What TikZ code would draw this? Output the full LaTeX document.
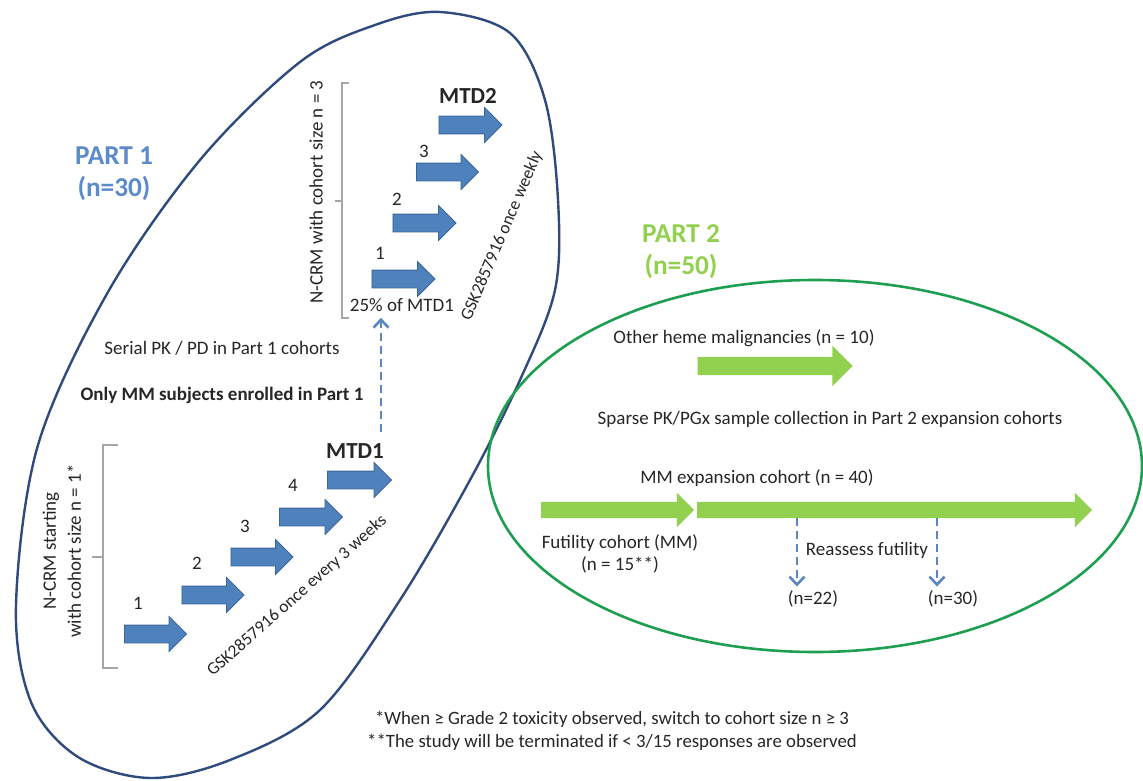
\documentclass[tikz,border=0pt]{standalone}
\usepackage{fontspec}
\setmainfont{Carlito}
\usetikzlibrary{shapes.arrows,arrows.meta}
\definecolor{bluefill}{HTML}{4F81BD}
\definecolor{bluedraw}{HTML}{3A6598}
\definecolor{ellblue}{HTML}{2F4A7D}
\definecolor{ellgreen}{HTML}{1E9E50}
\definecolor{greenfill}{HTML}{92D050}
\definecolor{part1col}{HTML}{5B8BCB}
\definecolor{part2col}{HTML}{92D050}
\definecolor{dashcol}{HTML}{5B86C0}
\definecolor{txtcol}{HTML}{262626}
\definecolor{brackcol}{HTML}{A6A6A6}
\begin{document}
\begin{tikzpicture}[x=1pt,y=-1pt,
  txt/.style={font=\fontsize{19}{23}\selectfont, text=txtcol, inner sep=0pt},
  btxt/.style={txt, font=\fontsize{19}{23}\selectfont\bfseries},
  numtxt/.style={txt, font=\fontsize{19}{23}\selectfont},
  mtdtxt/.style={txt, font=\fontsize{23}{27}\selectfont\bfseries},
  rottxt/.style={txt, font=\fontsize{17.5}{21}\selectfont},
  parttxt/.style={inner sep=0pt, align=center, font=\fontsize{27.3}{32}\selectfont\bfseries},
  barrow/.style={single arrow, fill=bluefill, draw=bluedraw, line width=0.8pt,
     inner ysep=8.5pt, inner xsep=0pt, single arrow head extend=8.5pt, single arrow tip angle=90},
  garrow/.style={single arrow, fill=greenfill, draw=none,
     inner ysep=8pt, inner xsep=0pt, single arrow head extend=9pt, single arrow tip angle=90},
  bracketline/.style={draw=brackcol, line width=1.2pt},
  dasharr/.style={draw=dashcol, line width=2.6pt, dash pattern=on 8pt off 5pt,
     -{Straight Barb[length=8pt,width=15pt]}},
  ellblue/.style={draw=ellblue, line width=2.4pt},
  ellgreen/.style={draw=ellgreen, line width=2.6pt}
]
\useasboundingbox (0,0) rectangle (1143,781);

% ---------- containers ----------
\draw[ellblue] plot[smooth cycle, tension=0.55] coordinates {
  (440,12) (510,33) (545,100) (558,200) (555,290) (520,380) (470,480)
  (400,600) (320,710) (230,760) (150,778) (78,757) (31,702) (16,605)
  (38,445) (108,292) (200,160) (300,62) (375,25)};
\draw[ellgreen] (815,466) ellipse [x radius=327pt, y radius=186pt];

% ---------- PART 1 ----------
\node[parttxt, text=part1col] (part1) at (114,174) {PART 1\\(n=30)};

% lower brace
\draw[bracketline] (118,445) -- (103,445) -- (103,668) -- (118,668);
\draw[bracketline] (103,557) -- (92,557);
\node[txt, rotate=90, align=center, font=\fontsize{19}{25}\selectfont] (ncrm1) at (62,551) {N-CRM starting\\with cohort size n = 1*};

% lower arrows
\node[barrow, minimum height=62pt] (a1) at (151,634) {};
\node[barrow, minimum height=62pt] (a2) at (208.5,595) {};
\node[barrow, minimum height=62pt] (a3) at (257.5,557) {};
\node[barrow, minimum height=63pt] (a4) at (306.5,517) {};
\node[barrow, minimum height=64pt] (a5) at (355,480) {};
\node[numtxt] (l1) at (138,603) {1};
\node[numtxt] (l2) at (197,563) {2};
\node[numtxt] (l3) at (245,526) {3};
\node[numtxt] (l4) at (293,485) {4};
\node[mtdtxt] (mtd1) at (355,451) {MTD1};
\node[rottxt, rotate=41.5] (gsk1) at (297,596) {GSK2857916 once every 3 weeks};

% middle texts
\node[txt] (serial) at (222,348) {Serial PK / PD in Part 1 cohorts};
\node[btxt] (onlymm) at (222,395) {Only MM subjects enrolled in Part 1};

% upper brace
\draw[bracketline] (349,83) -- (342,83) -- (342,318) -- (349,318);
\draw[bracketline] (342,201) -- (335,201);
\node[txt, rotate=90] (ncrm3) at (316,192) {N-CRM with cohort size n = 3};

% upper arrows
\node[barrow, minimum height=63pt] (u1) at (399,279) {};
\node[barrow, minimum height=63pt] (u2) at (420,223) {};
\node[barrow, minimum height=62pt] (u3) at (443,172) {};
\node[barrow, minimum height=63pt] (u4) at (466,125) {};
\node[numtxt] (m1) at (380,253) {1};
\node[numtxt] (m2) at (397,199) {2};
\node[numtxt] (m3) at (424,151) {3};
\node[mtdtxt] (mtd2) at (468,96) {MTD2};
\node[txt] (pct) at (402,305) {25\% of MTD1};
\node[rottxt, rotate=66.8] (gsk2) at (502,236) {GSK2857916 once weekly};

% dashed link
\coordinate (dstart) at (381,432);
\draw[dasharr, shorten >=6pt] (dstart) -- (pct.south -| dstart);

% ---------- PART 2 ----------
\node[parttxt, text=part2col] (part2) at (681,252) {PART 2\\(n=50)};
\node[txt] (heme) at (744,338) {Other heme malignancies (n = 10)};
\node[garrow, minimum height=155pt, inner ysep=9pt, single arrow head extend=11pt] (oh) at (770.5,366) {};
\node[txt] (sparse) at (830,419) {Sparse PK/PGx sample collection in Part 2 expansion cohorts};
\node[txt] (mmexp) at (757,478) {MM expansion cohort (n = 40)};
\node[garrow, minimum height=153pt] (g1) at (613.5,510) {};
\node[garrow, minimum height=395pt] (g2) at (890.5,510) {};
\node[txt, align=center, font=\fontsize{19}{22}\selectfont] (fut) at (620,554) {Futility cohort (MM)\\(n = 15**)};
\node[txt] (reass) at (867,550) {Reassess futility};
\node[txt] (n22) at (813,599) {(n=22)};
\node[txt] (n30) at (953,599) {(n=30)};
\coordinate (r1) at (797,518);
\coordinate (r2) at (937,518);
\draw[dasharr, shorten >=4pt] (r1) -- (n22.north -| r1);
\draw[dasharr, shorten >=4pt] (r2) -- (n30.north -| r2);

% ---------- footnotes ----------
\node[txt, align=center, font=\fontsize{18.8}{23}\selectfont] (foot) at (612,731)
  {*When ≥ Grade 2 toxicity observed, switch to cohort size n ≥ 3\\**The study will be terminated if < 3/15 responses are observed};
\end{tikzpicture}
\end{document}
